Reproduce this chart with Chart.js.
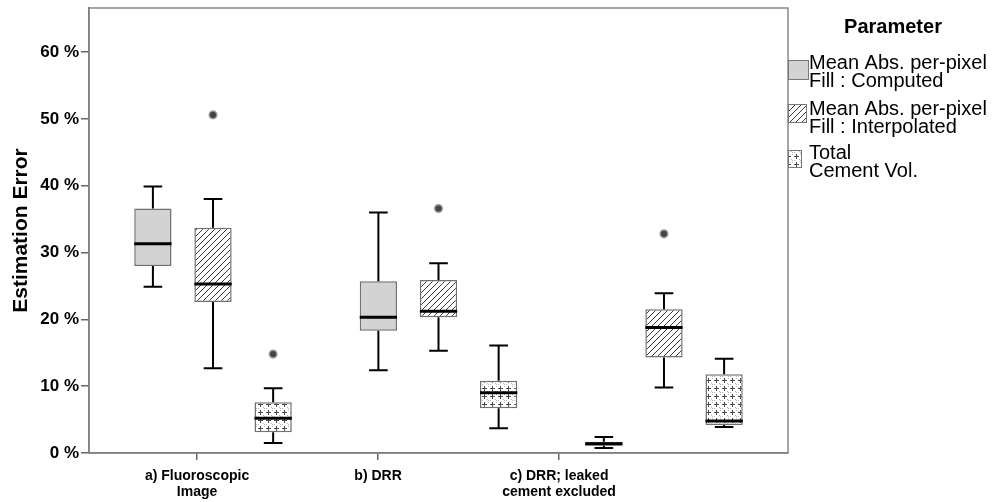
<!DOCTYPE html>
<html>
<head>
<meta charset="utf-8">
<script src="https://cdn.jsdelivr.net/npm/chart.js@4.4.1/dist/chart.umd.min.js"></script>
<style>
  html, body { margin: 0; padding: 0; background: #fff; }
  #wrap { width: 1000px; height: 502px; }
</style>
</head>
<body>
<div id="wrap"><canvas id="boxChart" width="1000" height="502"></canvas></div>
<script>
// x axis labels
const categories = [['a) Fluoroscopic', 'Image'], ['b) DRR'], ['c) DRR; leaked', 'cement excluded']];
const seriesNames = [['Mean Abs. per-pixel', 'Fill : Computed'], ['Mean Abs. per-pixel', 'Fill : Interpolated'], ['Total', 'Cement Vol.']];

// [min, q1, median, q3, max] in % for each category
const computedStats = [[24.9, 28.0, 31.3, 36.6, 39.9], [12.4, 18.3, 20.3, 25.7, 36.0], [0.75, 1.1, 1.4, 1.7, 2.4]];
const interpolatedStats = [[12.7, 22.6, 25.3, 33.7, 38.0], [15.3, 20.3, 21.2, 25.9, 28.4], [9.8, 14.3, 18.8, 21.5, 23.9]];
const totalVolStats = [[1.5, 3.1, 5.2, 7.6, 9.7], [3.7, 6.7, 9.0, 10.8, 16.1], [3.9, 4.2, 4.8, 11.8, 14.1]];

// outliers for each category
const computedOutliers = [[], [], []];
const interpolatedOutliers = [[50.6], [36.6], [32.8]];
const totalVolOutliers = [[14.8], [], []];

const yTicks = [0, 10, 20, 30, 40, 50, 60];

const statsList = [computedStats, interpolatedStats, totalVolStats];
const outlierList = [computedOutliers, interpolatedOutliers, totalVolOutliers];
const FONT = '"Liberation Sans", Arial, sans-serif';

function makePattern(kind) {
    const c = document.createElement('canvas');
    const s = kind === 'hatch' ? 6 : 8;
    c.width = s; c.height = s;
    const g = c.getContext('2d');
    g.fillStyle = '#fff';
    g.fillRect(0, 0, s, s);
    if (kind === 'hatch') {
        g.strokeStyle = '#3a3a3a';
        g.lineWidth = 1;
        g.beginPath();
        g.moveTo(0, s); g.lineTo(s, 0);
        g.moveTo(-s, s); g.lineTo(s, -s);
        g.moveTo(0, 2 * s); g.lineTo(2 * s, 0);
        g.stroke();
    } else {
        // faint dots + plus signs
        g.fillStyle = '#bdbdbd';
        g.fillRect(0, 0, 1, 1);
        g.fillRect(0, 2, 1, 1);
        g.fillRect(2, 0, 1, 1);
        g.fillRect(7, 7, 1, 1);
        g.fillStyle = '#4a4a4a';
        g.fillRect(4, 2, 1, 5);
        g.fillRect(2, 4, 5, 1);
    }
    return g.createPattern(c, 'repeat');
}

const fills = ['#d3d3d3', makePattern('hatch'), makePattern('plus')];

// whiskers, medians, outliers and plot frame
const boxExtras = {
    id: 'boxExtras',
    beforeDatasetsDraw(chart) {
        const {ctx, chartArea: a} = chart;
        ctx.save();
        ctx.strokeStyle = '#888';
        ctx.lineWidth = 1.5;
        ctx.strokeRect(a.left, a.top, a.right - a.left, a.bottom - a.top);
        ctx.restore();
    },
    afterDatasetsDraw(chart) {
        const ctx = chart.ctx;
        const y = chart.scales.y;
        ctx.save();
        statsList.forEach((st, di) => {
            chart.getDatasetMeta(di).data.forEach((bar, j) => {
                const s = st[j];
                const cx = bar.x, w = bar.width, cap = w / 2;
                ctx.strokeStyle = '#000';
                ctx.lineWidth = 2;
                [[s[3], s[4]], [s[1], s[0]]].forEach(([from, to]) => {
                    const p1 = y.getPixelForValue(from), p2 = y.getPixelForValue(to);
                    ctx.beginPath();
                    ctx.moveTo(cx, p1); ctx.lineTo(cx, p2);
                    ctx.moveTo(cx - cap / 2, p2); ctx.lineTo(cx + cap / 2, p2);
                    ctx.stroke();
                });
                // median
                const pm = y.getPixelForValue(s[2]);
                ctx.lineWidth = 3;
                ctx.beginPath();
                ctx.moveTo(cx - w / 2, pm); ctx.lineTo(cx + w / 2, pm);
                ctx.stroke();
                // outliers
                outlierList[di][j].forEach(v => {
                    ctx.beginPath();
                    ctx.arc(cx, y.getPixelForValue(v), 3.8, 0, Math.PI * 2);
                    ctx.fillStyle = '#444';
                    ctx.fill();
                    ctx.lineWidth = 1.5;
                    ctx.strokeStyle = '#9a9a9a';
                    ctx.stroke();
                });
            });
        });
        ctx.restore();
    }
};

// legend on the right side
const sideLegend = {
    id: 'sideLegend',
    afterDraw(chart) {
        const ctx = chart.ctx;
        const x0 = chart.chartArea.right;
        const tops = [60, 106, 150];
        const sw = [[20, 19], [18, 18], [13, 17]];
        ctx.save();
        ctx.fillStyle = '#000';
        ctx.textBaseline = 'middle';
        ctx.textAlign = 'center';
        ctx.font = 'bold 20px ' + FONT;
        ctx.fillText('Parameter', x0 + 105, 27);
        ctx.textAlign = 'left';
        ctx.font = '20px ' + FONT;
        seriesNames.forEach((lines, i) => {
            ctx.fillStyle = fills[i];
            ctx.fillRect(x0, tops[i] - (i === 1 ? 2 : 0), sw[i][0], sw[i][1]);
            ctx.strokeStyle = '#777';
            ctx.lineWidth = 1;
            ctx.strokeRect(x0 + 0.5, tops[i] - (i === 1 ? 2 : 0) + 0.5, sw[i][0], sw[i][1]);
            ctx.fillStyle = '#000';
            lines.forEach((t, k) => ctx.fillText(t, x0 + 21, tops[i] + 3 + k * 18));
        });
        ctx.restore();
    }
};

const ctx = document.getElementById('boxChart').getContext('2d');
const boxChart = new Chart(ctx, {
    type: 'bar',
    data: {
        datasets: statsList.map((st, i) => ({
            label: seriesNames[i].join(' '),
            data: st.map((s, j) => ({x: j, y: [s[1], s[3]]})),
            backgroundColor: fills[i],
            borderColor: '#707070',
            borderWidth: 1.5,
            borderSkipped: false,
            categoryPercentage: 0.8,
            barPercentage: 0.62,
            xAxisID: 'x',
            yAxisID: 'y'
        }))
    },
    options: {
        responsive: false,
        animation: false,
        events: [],
        layout: {padding: {left: 0, top: 8, right: 212, bottom: 0}},
        plugins: {legend: {display: false}, tooltip: {enabled: false}},
        scales: {
            x: {
                type: 'linear',
                display: false,
                offset: false,
                grid: {offset: false},
                min: -0.55,
                max: 2.55,
                afterBuildTicks: s => { s.ticks = categories.map((c, i) => ({value: i})); }
            },
            x2: {
                type: 'linear',
                position: 'bottom',
                offset: false,
                min: -0.597,
                max: 3.265,
                afterBuildTicks: s => { s.ticks = categories.map((c, i) => ({value: i})); },
                afterFit: s => { s.height = 49; s.paddingLeft = 0; s.paddingRight = 0; },
                ticks: {
                    callback: v => categories[v],
                    font: {family: FONT, size: 14, weight: 'bold', lineHeight: 1.15},
                    color: '#000',
                    padding: 8,
                    maxRotation: 0,
                    autoSkip: false
                },
                grid: {offset: false, drawOnChartArea: false, drawTicks: true, tickLength: 7, color: '#666', lineWidth: 1.5},
                border: {display: true, color: '#666', width: 1.5}
            },
            y: {
                min: 0,
                max: 66.6,
                afterBuildTicks: s => { s.ticks = yTicks.map(v => ({value: v})); },
                afterFit: s => { s.width = 89; s.paddingTop = 0; s.paddingBottom = 0; },
                ticks: {
                    callback: v => v + ' %',
                    font: {family: FONT, size: 17, weight: 'bold'},
                    color: '#000',
                    padding: 2
                },
                title: {
                    display: true,
                    text: 'Estimation Error',
                    font: {family: FONT, size: 21, weight: 'bold'},
                    color: '#000',
                    padding: {top: 9, bottom: 0}
                },
                grid: {drawOnChartArea: false, drawTicks: true, tickLength: 8, color: '#666', lineWidth: 1.5},
                border: {display: true, color: '#666', width: 1.5}
            }
        }
    },
    plugins: [boxExtras, sideLegend]
});
</script>
</body>
</html>
